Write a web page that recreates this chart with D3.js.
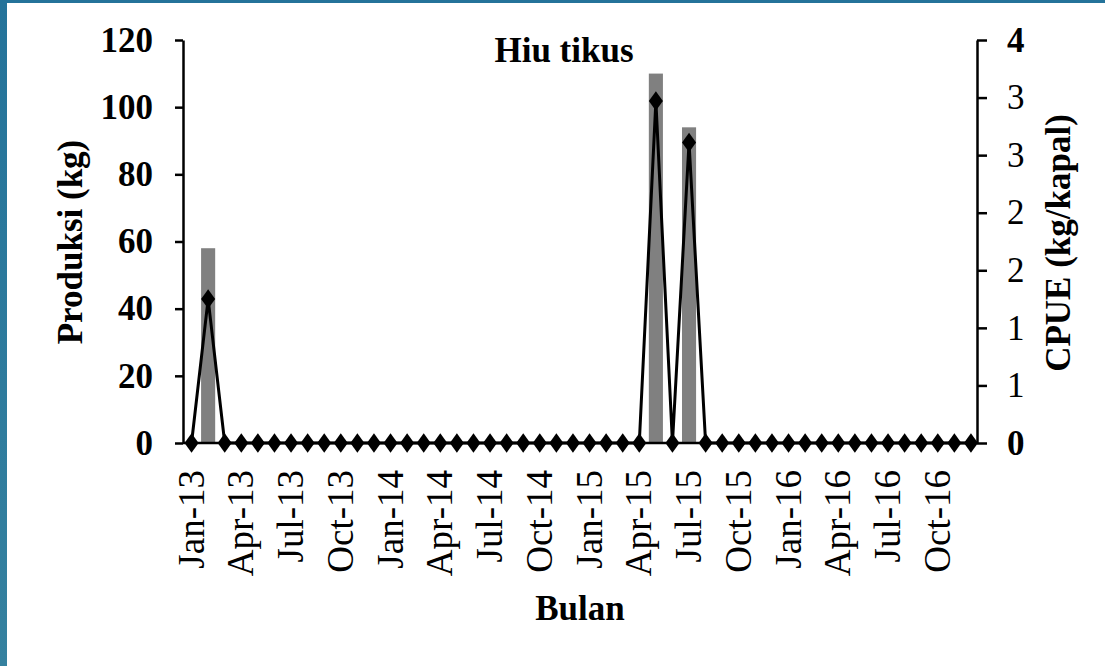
<!DOCTYPE html>
<html>
<head>
<meta charset="utf-8">
<script src="https://cdn.jsdelivr.net/npm/d3@7"></script>
<style>
  body { margin: 0; background: #fff; }
  svg text { font-family: "Liberation Serif", "Times New Roman", serif; fill: #000; }
</style>
</head>
<body>
<svg id="chart" width="1105" height="666"></svg>
<script>
// months Jan-13 .. Dec-16
var monthNames = ['Jan','Feb','Mar','Apr','May','Jun','Jul','Aug','Sep','Oct','Nov','Dec'];
var years = ['13','14','15','16'];
var months = [];
years.forEach(function(y){ monthNames.forEach(function(m){ months.push(m + '-' + y); }); });

// Produksi (kg), bars
var produksi = [0,58,0,0,0,0,0,0,0,0,0,0, 0,0,0,0,0,0,0,0,0,0,0,0,
                0,0,0,0,110,0,94,0,0,0,0,0, 0,0,0,0,0,0,0,0,0,0,0,0];
// CPUE (kg/kapal), line
var cpue = [0,1.25,0,0,0,0,0,0,0,0,0,0, 0,0,0,0,0,0,0,0,0,0,0,0,
            0,0,0,0,2.97,0,2.61,0,0,0,0,0, 0,0,0,0,0,0,0,0,0,0,0,0];

var leftTicks = [0,20,40,60,80,100,120];
var rightTicks = [0,0.5,1,1.5,2,2.5,3,3.5];
var xTickLabels = months.filter(function(d,i){ return i % 3 === 0; });

(function(){
    var svg = d3.select('#chart');
    var fs = 35;

    // slide background border
    var grad = svg.append('defs').append('linearGradient')
        .attr('id','edge').attr('x1',0).attr('y1',0).attr('x2',0).attr('y2',1);
    grad.append('stop').attr('offset','0%').attr('stop-color','#24739a');
    grad.append('stop').attr('offset','100%').attr('stop-color','#35819f');
    svg.append('rect').attr('x',0).attr('y',0).attr('width',1105).attr('height',666).attr('fill','url(#edge)');
    svg.append('rect').attr('x',7).attr('y',3).attr('width',1098).attr('height',663).attr('fill','#fff');

    var plotLeft = 183, plotRight = 977, plotTop = 40, plotBottom = 443;

    var x = d3.scaleBand().domain(months).range([184.5, 978]).paddingInner(0.15).paddingOuter(0);
    var yL = d3.scaleLinear().domain([0,120]).range([plotBottom, plotTop]);
    var yR = d3.scaleLinear().domain([0,3.5]).range([plotBottom, plotTop]);
    var cx = function(d){ return x(d) + x.bandwidth()/2; };

    // bars
    svg.append('g').selectAll('rect')
        .data(months)
        .enter().append('rect')
            .attr('x', function(d){ return x(d); })
            .attr('width', x.bandwidth())
            .attr('y', function(d,i){ return yL(produksi[i]); })
            .attr('height', function(d,i){ return plotBottom - yL(produksi[i]); })
            .attr('fill','#808080');

    // left axis
    var axL = svg.append('g')
        .attr('transform','translate('+plotLeft+',0)')
        .call(d3.axisLeft(yL).tickValues(leftTicks).tickSize(8).tickPadding(22).tickSizeOuter(0));
    axL.select('.domain').attr('stroke','#000').attr('stroke-width',2.5);
    axL.selectAll('.tick line').attr('stroke','#000').attr('stroke-width',2.5);
    axL.selectAll('.tick text')
        .style('font-family','"Liberation Serif", serif')
        .style('font-size',fs+'px').style('font-weight','bold').attr('fill','#000');

    // right axis
    var axR = svg.append('g')
        .attr('transform','translate('+plotRight+',0)')
        .call(d3.axisRight(yR).tickValues(rightTicks).tickSize(10).tickPadding(20).tickSizeOuter(0)
            .tickFormat(function(d){ return String(Math.floor(d + 0.5)); }));
    axR.select('.domain').attr('stroke','#000').attr('stroke-width',2.5);
    axR.selectAll('.tick line').attr('stroke','#000').attr('stroke-width',2.5);
    axR.selectAll('.tick text')
        .style('font-family','"Liberation Serif", serif')
        .style('font-size',fs+'px')
        .style('font-weight', function(d){ return (d === 0 || d === 3.5) ? 'bold' : 'normal'; })
        .attr('fill','#000');

    // baseline
    svg.append('line')
        .attr('x1',plotLeft).attr('x2',plotRight)
        .attr('y1',plotBottom).attr('y2',plotBottom)
        .attr('stroke','#000').attr('stroke-width',2.5);

    // x tick labels
    svg.append('g').selectAll('text')
        .data(xTickLabels)
        .enter().append('text')
            .attr('transform', function(d){ return 'translate('+(cx(d)+12)+','+(plotBottom+27)+') rotate(-90)'; })
            .attr('text-anchor','end')
            .style('font-size','37px')
            .text(function(d){ return d; });

    // CPUE line
    var line = d3.line()
        .x(function(d){ return cx(d); })
        .y(function(d,i){ return yR(cpue[i]); });

    svg.append('path')
        .datum(months)
        .attr('d', line)
        .attr('fill','none')
        .attr('stroke','#000')
        .attr('stroke-width',3);

    var diamond = d3.symbol().type(d3.symbolDiamond).size(110);
    svg.append('g').selectAll('path')
        .data(months)
        .enter().append('path')
            .attr('d', diamond)
            .attr('transform', function(d,i){ return 'translate('+cx(d)+','+yR(cpue[i])+') scale(1.25,1)'; })
            .attr('fill','#000');

    // title and axis titles
    svg.append('text')
        .attr('x',564).attr('y',62)
        .attr('text-anchor','middle')
        .style('font-size',fs+'px').style('font-weight','bold')
        .text('Hiu tikus');

    svg.append('text')
        .attr('transform','translate(82,242) rotate(-90)')
        .attr('text-anchor','middle')
        .style('font-size',fs+'px').style('font-weight','bold')
        .text('Produksi (kg)');

    svg.append('text')
        .attr('transform','translate(1070,243) rotate(-90)')
        .attr('text-anchor','middle')
        .style('font-size',fs+'px').style('font-weight','bold')
        .text('CPUE (kg/kapal)');

    svg.append('text')
        .attr('x',580).attr('y',620)
        .attr('text-anchor','middle')
        .style('font-size',fs+'px').style('font-weight','bold')
        .text('Bulan');
})();
</script>
</body>
</html>
